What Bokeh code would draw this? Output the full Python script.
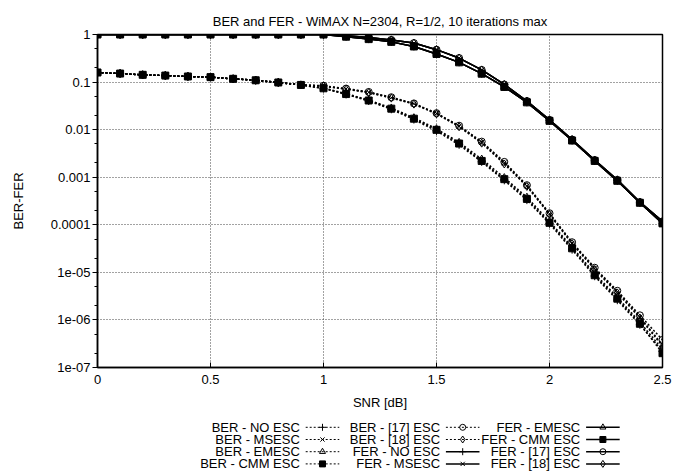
from bokeh.plotting import figure
from bokeh.models import Range1d, FixedTicker
from bokeh.layouts import column
from bokeh.embed import file_html
from bokeh.resources import INLINE
from bokeh.core.properties import value

FONT = "Liberation Sans"

snr = [0.0, 0.1, 0.2, 0.3, 0.4, 0.5, 0.6, 0.7, 0.8, 0.9, 1.0, 1.1, 1.2,
       1.3, 1.4, 1.5, 1.6, 1.7, 1.8, 1.9, 2.0, 2.1, 2.2, 2.3, 2.4, 2.5]

ber_no_esc = [0.159, 0.151, 0.142, 0.137, 0.131, 0.127, 0.117, 0.109, 0.098, 0.087,
              0.073, 0.055, 0.040, 0.0268, 0.0163, 0.0094, 0.0048, 0.0021, 0.00086,
              0.00033, 0.000105, 3.0e-5, 8.3e-6, 2.6e-6, 7.9e-7, 2.2e-7]
ber_msesc = [0.159, 0.151, 0.142, 0.137, 0.131, 0.127, 0.117, 0.109, 0.098, 0.087,
             0.083, 0.072, 0.061, 0.047, 0.035, 0.0218, 0.0118, 0.0054, 0.0020,
             0.00066, 0.00017, 4.1e-5, 1.2e-5, 3.9e-6, 1.15e-6, 3.0e-7]
ber_emesc = [0.159, 0.151, 0.142, 0.137, 0.131, 0.127, 0.117, 0.109, 0.098, 0.087,
             0.075, 0.057, 0.042, 0.0285, 0.0178, 0.0104, 0.0054, 0.0024, 0.00098,
             0.00038, 0.000118, 3.4e-5, 9.4e-6, 3.0e-6, 9.0e-7, 2.4e-7]
ber_cmm = [0.159, 0.151, 0.142, 0.137, 0.131, 0.127, 0.117, 0.109, 0.098, 0.087,
           0.074, 0.056, 0.041, 0.0276, 0.017, 0.0099, 0.0051, 0.0022, 0.00091,
           0.00035, 0.00011, 3.2e-5, 8.7e-6, 2.8e-6, 8.3e-7, 2.0e-7]
ber_17 = [0.159, 0.151, 0.142, 0.137, 0.131, 0.127, 0.117, 0.109, 0.098, 0.087,
          0.084, 0.073, 0.062, 0.048, 0.0356, 0.0222, 0.0121, 0.0056, 0.0021,
          0.00068, 0.000175, 4.3e-5, 1.25e-5, 4.1e-6, 1.25e-6, 3.8e-7]
ber_18 = [0.159, 0.151, 0.142, 0.137, 0.131, 0.127, 0.117, 0.109, 0.098, 0.087,
          0.082, 0.071, 0.060, 0.046, 0.0344, 0.0214, 0.0115, 0.0052, 0.0019,
          0.00064, 0.000165, 4.0e-5, 1.15e-5, 3.7e-6, 1.1e-6, 2.8e-7]

fer_no_esc = [1, 1, 1, 1, 1, 1, 1, 1, 1, 1, 1,
              0.90, 0.80, 0.70, 0.56, 0.39, 0.26, 0.15, 0.079, 0.0375, 0.0153,
              0.0059, 0.0022, 0.00084, 0.00029, 0.000107]
fer_msesc = [1, 1, 1, 1, 1, 1, 1, 1, 1, 1, 1,
             0.94, 0.86, 0.77, 0.66, 0.48, 0.32, 0.18, 0.089, 0.040, 0.0160,
             0.0062, 0.0023, 0.00088, 0.00030, 0.000118]
fer_emesc = [1, 1, 1, 1, 1, 1, 1, 1, 1, 1, 1,
             0.90, 0.80, 0.70, 0.56, 0.39, 0.26, 0.15, 0.079, 0.0375, 0.0153,
             0.0059, 0.0022, 0.00084, 0.00029, 0.000107]
fer_cmm = [1, 1, 1, 1, 1, 1, 1, 1, 1, 1, 1,
           0.90, 0.80, 0.70, 0.56, 0.39, 0.26, 0.15, 0.079, 0.0375, 0.0153,
           0.0059, 0.0022, 0.00084, 0.00029, 0.000107]
fer_17 = [1, 1, 1, 1, 1, 1, 1, 1, 1, 1, 1,
          0.94, 0.86, 0.77, 0.66, 0.48, 0.32, 0.18, 0.089, 0.040, 0.0160,
          0.0062, 0.0023, 0.00088, 0.00030, 0.000118]
fer_18 = [1, 1, 1, 1, 1, 1, 1, 1, 1, 1, 1,
          0.94, 0.86, 0.77, 0.66, 0.48, 0.32, 0.18, 0.089, 0.040, 0.0160,
          0.0062, 0.0023, 0.00088, 0.00030, 0.000118]

x_ticks = [0, 0.5, 1, 1.5, 2, 2.5]
x_tick_labels = ["0", "0.5", "1", "1.5", "2", "2.5"]
y_ticks = [1e-7, 1e-6, 1e-5, 1e-4, 1e-3, 1e-2, 1e-1, 1]
y_tick_labels = ["1e-07", "1e-06", "1e-05", "0.0001", "0.001", "0.01", "0.1", "1"]
y_minor = [m * t for t in y_ticks[:-1] for m in (2, 5)]

series = [
    ("BER - NO ESC", ber_no_esc, "cross", "ber"),
    ("BER - MSESC", ber_msesc, "x", "ber"),
    ("BER - EMESC", ber_emesc, "triangle", "ber"),
    ("BER - CMM ESC", ber_cmm, "square", "ber"),
    ("BER - [17] ESC", ber_17, "circle", "ber"),
    ("BER - [18] ESC", ber_18, "diamond", "ber"),
    ("FER - NO ESC", fer_no_esc, "cross", "fer"),
    ("FER - MSESC", fer_msesc, "x", "fer"),
    ("FER - EMESC", fer_emesc, "triangle", "fer"),
    ("FER - CMM ESC", fer_cmm, "square", "fer"),
    ("FER - [17] ESC", fer_17, "circle", "fer"),
    ("FER - [18] ESC", fer_18, "diamond", "fer"),
]

MSIZE = {"cross": 8, "x": 7, "triangle": 7, "square": 7, "circle": 7, "diamond": 8}

W = 673
H_MAIN = 412
H_LEG = 61

p = figure(width=W, height=H_MAIN, output_backend="svg", toolbar_location=None,
           x_range=Range1d(0, 2.5), y_range=Range1d(1e-7, 1), y_axis_type="log",
           title="BER and FER - WiMAX N=2304, R=1/2, 10 iterations max",
           min_border_left=97, min_border_right=11, min_border_top=34,
           min_border_bottom=44)
p.background_fill_color = "white"
p.border_fill_color = "white"
p.outline_line_color = "black"
p.outline_line_width = 1.5

p.title.align = "center"
p.title.text_font = FONT
p.title.text_font_size = "13px"
p.title.text_font_style = "normal"
p.title.text_color = "black"
p.title.standoff = 12

p.xaxis.ticker = FixedTicker(ticks=x_ticks)
p.xaxis.major_label_overrides = {t: l for t, l in zip(x_ticks, x_tick_labels)}
p.yaxis.ticker = FixedTicker(ticks=y_ticks, minor_ticks=y_minor)
p.yaxis.major_label_overrides = {t: l for t, l in zip(y_ticks, y_tick_labels)}
p.xgrid.ticker = FixedTicker(ticks=x_ticks)
p.ygrid.ticker = FixedTicker(ticks=y_ticks)
for g in (p.xgrid, p.ygrid):
    g.grid_line_color = "#444444"
    g.grid_line_dash = "1 2"
    g.grid_line_width = 1

p.xaxis.axis_label = "SNR [dB]"
p.yaxis.axis_label = "BER-FER"
for ax in (p.xaxis, p.yaxis):
    ax.axis_label_text_font = FONT
    ax.axis_label_text_font_size = "13px"
    ax.axis_label_text_font_style = "normal"
    ax.axis_label_text_color = "black"
    ax.major_label_text_font = FONT
    ax.major_label_text_font_size = "13px"
    ax.major_label_text_color = "black"
    ax.axis_line_color = "black"
    ax.axis_line_width = 1.5
    ax.major_tick_line_color = "black"
    ax.minor_tick_line_color = "black"

p.xaxis.major_tick_in = 5
p.xaxis.major_tick_out = 0
p.xaxis.minor_tick_in = 0
p.xaxis.minor_tick_out = 0
p.xaxis.major_label_standoff = 7
p.xaxis.axis_label_standoff = 8

p.yaxis.major_tick_in = 0
p.yaxis.major_tick_out = 5
p.yaxis.minor_tick_in = 0
p.yaxis.minor_tick_out = 3
p.yaxis.major_label_standoff = 2
p.yaxis.axis_label_standoff = 22

for name, vals, marker, kind in series:
    if kind == "ber":
        p.line(snr, vals, line_color="black", line_width=1.5, line_dash="2 2")
    else:
        p.line(snr, vals, line_color="black", line_width=1.5)
    fill = "black" if marker == "square" else None
    p.scatter(snr, vals, marker=marker, size=MSIZE[marker], line_color="black",
              fill_color=fill, line_width=1)

# legend panel (gnuplot style: text right-aligned, line sample to its right)
leg = figure(width=W, height=H_LEG, output_backend="svg", toolbar_location=None,
             x_range=Range1d(0, W), y_range=Range1d(H_LEG, 0), min_border=0)
leg.axis.visible = False
leg.grid.visible = False
leg.outline_line_color = None
leg.background_fill_color = "white"
leg.border_fill_color = "white"

col_text_right = [241, 408, 575]
col_sample_start = [248, 415, 582]
sample_len = 40
row_y = [14.8, 27.0, 39.2, 51.4]

for i, (name, vals, marker, kind) in enumerate(series):
    c, r = divmod(i, 4)
    y = row_y[r]
    x0 = col_sample_start[c]
    xm = x0 + sample_len / 2
    leg.text([col_text_right[c]], [y], text=[name], text_align="right",
             text_baseline="middle", text_font=value(FONT),
             text_font_size="13px", text_color="black")
    if kind == "ber":
        leg.line([x0, x0 + sample_len], [y, y], line_color="black",
                 line_width=1, line_dash="2 2")
    else:
        leg.line([x0, x0 + sample_len], [y, y], line_color="black", line_width=1.5)
    fill = "black" if marker == "square" else None
    leg.scatter([xm], [y], marker=marker, size=MSIZE[marker] - 1,
                line_color="black", fill_color=fill, line_width=1)

layout = column(p, leg, spacing=0)
open("out.html", "w").write(file_html(layout, INLINE))
